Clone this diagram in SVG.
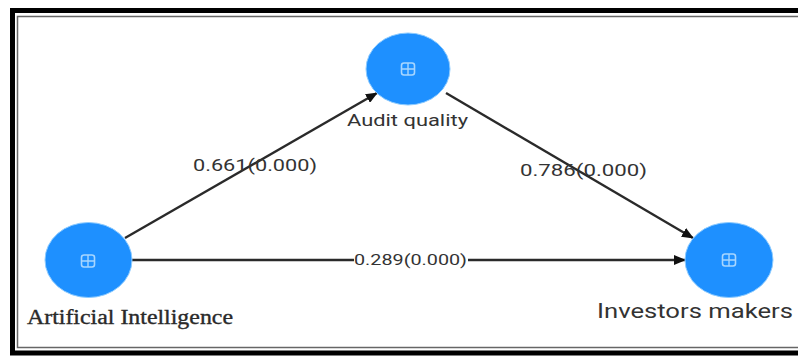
<svg xmlns="http://www.w3.org/2000/svg" width="798" height="358" viewBox="0 0 798 358">
  <defs>
    <marker id="arrow" viewBox="0 0 12 10" refX="11" refY="5" markerWidth="12" markerHeight="10" markerUnits="userSpaceOnUse" orient="auto">
      <path d="M0,0 L12,5 L0,10 Z" fill="#111"/>
    </marker>
    <g id="icon">
      <rect x="-6.5" y="-6" width="13" height="12" rx="2.5" fill="none" stroke="#a8d6ff" stroke-width="1.6"/>
      <path d="M0,-6 V6 M-6.5,0 H6.5" stroke="#a8d6ff" stroke-width="1.4"/>
    </g>
  </defs>
  <style>
    .node { fill: #1e90ff; stroke: #8ccbff; stroke-width: 1; }
    .edge { stroke: #2a2a2a; stroke-width: 2.4; fill: none; marker-end: url(#arrow); }
    .elabel { font-family: Roboto, "Liberation Sans", sans-serif; fill: #333; }
    .nlabel { font-family: Roboto, "Liberation Sans", sans-serif; fill: #333; }
    .slabel { font-family: "Liberation Serif", serif; fill: #2a2a2a; stroke: #2a2a2a; stroke-width: 0.35; }
  </style>

  <rect width="798" height="358" fill="#fff"/>

  <!-- frame -->
  <g id="frame" fill="none">
    <rect x="12.5" y="10.5" width="800" height="342.5" stroke="#000" stroke-width="5"/>
    <rect x="17.5" y="16.5" width="800" height="331" stroke="#666" stroke-width="1.5"/>
  </g>

  <!-- connectors -->
  <g id="connectors">
    <line class="edge" x1="125" y1="238" x2="377" y2="93"/>
    <line class="edge" x1="446" y1="93" x2="693" y2="238"/>
    <line class="edge" x1="132" y1="260" x2="685" y2="260"/>
    <text class="elabel" x="193" y="171" font-size="17" textLength="124" lengthAdjust="spacingAndGlyphs">0.661(0.000)</text>
    <text class="elabel" x="520" y="176" font-size="17" textLength="127" lengthAdjust="spacingAndGlyphs">0.786(0.000)</text>
    <rect x="354" y="251" width="114" height="16" fill="#fff"/>
    <text class="elabel" x="354" y="265" font-size="15" textLength="113" lengthAdjust="spacingAndGlyphs">0.289(0.000)</text>
  </g>

  <!-- nodes -->
  <g id="audit-quality">
    <ellipse class="node" cx="408" cy="69" rx="42" ry="36"/>
    <use href="#icon" x="408" y="69"/>
    <text class="nlabel" x="347" y="126" font-size="17" textLength="121" lengthAdjust="spacingAndGlyphs">Audit quality</text>
  </g>

  <g id="artificial-intelligence">
    <ellipse class="node" cx="88.5" cy="260" rx="43.5" ry="37.5"/>
    <use href="#icon" x="88" y="261"/>
    <text class="slabel" x="27" y="324" font-size="20" textLength="206" lengthAdjust="spacingAndGlyphs">Artificial Intelligence</text>
  </g>

  <g id="investors-makers">
    <ellipse class="node" cx="729" cy="260" rx="44" ry="37.5"/>
    <use href="#icon" x="729" y="260"/>
    <text class="nlabel" x="597" y="318" font-size="20" textLength="196" lengthAdjust="spacingAndGlyphs">Investors makers</text>
  </g>
</svg>
